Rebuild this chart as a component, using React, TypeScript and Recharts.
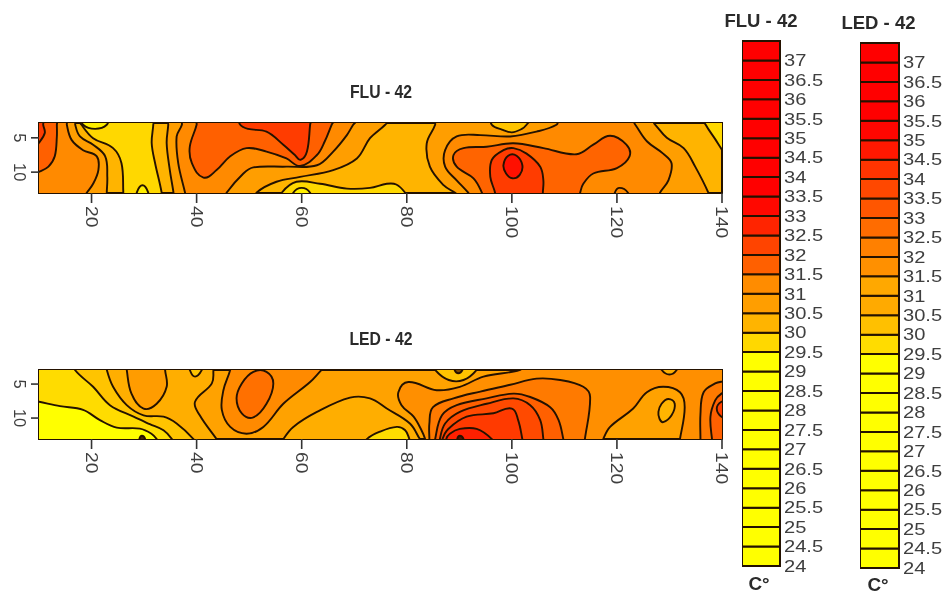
import React from 'react';
import { Bar, BarChart, CartesianGrid, ReferenceArea, Scatter, ScatterChart, XAxis, YAxis } from 'recharts';

type Pt = [number, number];

// distance along the strip and across it. Points just outside the frame close each region.
const xTicks = [20, 40, 60, 80, 100, 120, 140];
const yTicks = [5, 10];
const tempTicks = [24, 24.5, 25, 25.5, 26, 26.5, 27, 27.5, 28, 28.5, 29, 29.5, 30, 30.5, 31, 31.5, 32, 32.5, 33, 33.5, 34, 34.5, 35, 35.5, 36, 36.5, 37];

// legend colours from 24 upward, one per half degree
const fluBandColors = ['#ffff00', '#ffff00', '#ffff00', '#ffff00', '#ffff00', '#ffff00', '#ffff00', '#ffff00', '#ffff00', '#ffff00', '#ffff00', '#ffd800', '#ffb400', '#ff9e00', '#ff8c00', '#ff6000', '#ff4400', '#ff2400', '#ff0800', '#ff0000', '#ff0000', '#ff0000', '#ff0000', '#ff0000', '#ff0000', '#ff0000', '#ff0000'];
const ledBandColors = ['#ffff00', '#ffff00', '#ffff00', '#ffff00', '#ffff00', '#ffff00', '#ffff00', '#ffff00', '#ffff00', '#ffff00', '#ffff00', '#ffdc00', '#ffc000', '#ffaa00', '#ffa800', '#ff9000', '#ff8000', '#ff6c00', '#ff5600', '#ff4800', '#ff3400', '#ff1800', '#ff0600', '#ff0000', '#ff0000', '#ff0000', '#ff0000'];

// FLU - 42 contours
const fluYellowCentre: Pt[] = [[17.5, 2.1], [18.1, 3.1], [20.3, 5.05], [24.1, 6.5], [25.7, 8.7], [26.05, 13], [26.1, 14.1], [33.35, 14.1], [33.35, 13], [32.1, 8.7], [31.45, 5.8], [31.75, 3.1], [31.75, 2.1]];
const fluTopNotch: Pt[] = [[18.4, 2.1], [18.4, 3.1], [20.7, 3.7], [22.9, 3.1], [22.9, 2.1]];
const fluBottomNotch: Pt[] = [[28.6, 14.1], [28.6, 13], [29.7, 11.9], [30.8, 13], [30.8, 14.1]];
const fluLeftA: Pt[] = [[16.9, 2.1], [16.9, 3.1], [17.8, 4.8], [20.3, 6], [22.6, 7.7], [23, 10.7], [22.9, 13], [22.9, 14.1], [8, 14.1], [8, 2.1]];
const fluLeftB: Pt[] = [[15.3, 2.1], [15.3, 3.1], [16.2, 5.3], [18.4, 6.8], [21, 7.7], [21.3, 9.7], [20.3, 11.7], [19.1, 13], [18.1, 14.1], [8, 14.1], [8, 2.1]];
const fluLeftC: Pt[] = [[13.4, 2.1], [13.4, 3.1], [13.4, 4.8], [13, 7.7], [11.8, 9.2], [10, 9.95], [8.6, 10.3], [8, 2.1]];
const fluLeftD: Pt[] = [[10.8, 2.1], [10.8, 3.1], [11.1, 4.3], [10, 5.7], [8.9, 6.5], [8, 2.1]];
const fluMidA: Pt[] = [[34.6, 2.1], [34.6, 3.1], [34.3, 5.8], [34.9, 9.7], [35.6, 13], [35.7, 14.1], [51.4, 14.1], [51.4, 13], [55.2, 11.4], [59.7, 10.7], [66, 9.7], [70.5, 8], [73, 5.05], [75.9, 3.1], [76.8, 2.1]];
const fluMidB: Pt[] = [[37.2, 2.1], [37.2, 3.1], [36.2, 4.8], [36.5, 8.7], [37.8, 13], [38.1, 14.1], [45.1, 14.1], [45.7, 13], [48.9, 10.2], [50.8, 9.3], [57.1, 9.2], [62.9, 9], [66, 7], [68.6, 4.6], [69.8, 3.1], [70.8, 2.1]];
const fluMidC: Pt[] = [[40, 2.1], [40, 3.1], [38.7, 6.3], [39.1, 8.7], [41.3, 10.8], [43.8, 9.7], [46.4, 7.7], [49.5, 6.5], [53.3, 7], [57.1, 8], [59.7, 9.1], [62.9, 7.5], [64.4, 5.5], [65.7, 3.1], [66.3, 2.1]];
const fluMidD: Pt[] = [[48.3, 2.1], [48.3, 3.1], [49.8, 3.7], [53.3, 4.1], [56.5, 6], [58.7, 7.5], [59.8, 8.2], [61, 7], [61.6, 3.1], [61.7, 2.1]];
const fluBottomYellow: Pt[] = [[56.2, 14.1], [56.2, 13], [59, 11.4], [63.5, 11.7], [68.6, 12.4], [73, 12.3], [76.2, 11.7], [78, 11.8], [79.7, 13], [80.3, 14.1]];
const fluBottomCore: Pt[] = [[58.4, 14.1], [58.4, 13], [60, 12.3], [61.6, 13], [61.6, 14.1]];
const fluRightA: Pt[] = [[85.4, 2.1], [85.4, 3.1], [83.8, 5.8], [84.4, 9.2], [87, 11.9], [89.2, 13], [91.1, 14.1], [137.7, 14.1], [137.4, 13], [134.9, 9.2], [132.7, 6.5], [129.5, 5], [127.3, 3.1], [126, 2.1]];
const fluRightTopNotch: Pt[] = [[96.2, 2.1], [96.2, 3.1], [98.1, 3.8], [100, 4.2], [101.9, 3.7], [102.8, 3.1], [103.5, 2.1]];
const fluRightB: Pt[] = [[109.2, 2.1], [108.5, 3.1], [104.7, 4.1], [99.7, 4.8], [94, 4.6], [89.5, 4.8], [87.3, 6.8], [87.3, 9.2], [89.5, 11.2], [91.7, 13], [92.7, 14.1], [127.9, 14.1], [128.2, 13], [129.8, 11.2], [130.4, 8.7], [128.8, 7.3], [125.7, 5.5], [123.5, 3.1], [122.5, 2.1]];
const fluRightC: Pt[] = [[94.6, 14.1], [94.3, 13], [92.7, 10.9], [89.5, 9.2], [88.9, 7.5], [90.8, 6.5], [95.2, 6.3], [100.3, 5.8], [106, 6.5], [112.3, 7.4], [115.5, 6], [118.7, 4.7], [121.8, 6], [122.4, 7.7], [120, 9.4], [115.5, 10.2], [113.6, 11.7], [113, 13], [112.7, 14.1]];
const fluRightD: Pt[] = [[96.8, 14.1], [96.8, 13], [95.9, 10.7], [96.2, 8.2], [98.4, 6.8], [100.3, 6.5], [102.8, 7.3], [105.4, 9.2], [106, 11.2], [105.9, 13], [105.9, 14.1]];
const fluPeak: Pt[] = [[98.4, 8.97], [99.3, 7.6], [100.9, 7.6], [102, 9], [101.5, 10.4], [100.1, 10.9], [98.9, 10.2]];
const fluBottomBump: Pt[] = [[119.6, 14.1], [119.6, 13], [120.5, 12.3], [122.1, 13], [122.1, 14.1]];
const fluCorner: Pt[] = [[136.5, 2.1], [136.9, 3.1], [138.8, 5.3], [139.8, 6.5], [141, 7.7], [142.8, 2.1]];

// LED - 42 contours
const ledLeftA: Pt[] = [[43.2, 2], [43.2, 2.9], [42.9, 4.9], [39.7, 7.6], [40.6, 9.6], [43.8, 13.1], [44.8, 14.2], [8, 14.2], [8, 2]];
const ledLeftB: Pt[] = [[22.9, 2], [22.9, 2.9], [24.1, 5.4], [26.7, 8.1], [29.9, 9.6], [33.7, 9.8], [36.2, 10.8], [39.4, 13.1], [40, 14.2], [8, 14.2], [8, 2]];
const ledLeftC: Pt[] = [[16.85, 1.95], [16.85, 2.93], [20.3, 5.4], [23.5, 8.1], [28, 9.8], [31.1, 10.9], [33.7, 11.8], [35.3, 13.1], [35.9, 14.2], [8, 14.2], [8, 2]];
const ledLeftD: Pt[] = [[8.6, 7.4], [10, 7.6], [14, 8.25], [18.4, 8.8], [21.6, 10.3], [24.8, 11.4], [29.2, 11.55], [31.4, 12.3], [32.4, 13.1], [33, 14.2], [8, 14.2]];
const ledLeftDot: Pt[] = [[29.1, 14.2], [29.1, 13.1], [29.6, 12.6], [30.2, 13.1], [30.2, 14.2]];
const ledTopHill: Pt[] = [[26.7, 2], [26.7, 2.9], [27.6, 6.4], [29.9, 8.6], [32.4, 7.9], [34.3, 5.4], [34, 2.9], [34, 2]];
const ledTopNotch: Pt[] = [[38.7, 2], [38.7, 2.9], [39.7, 3.9], [41, 2.9], [41, 2]];
const ledRing: Pt[] = [[46.4, 2], [46.4, 2.9], [45.1, 5.9], [44.8, 8.8], [46.4, 11.3], [49.5, 12.3], [52.7, 11.3], [56.5, 7.9], [61.6, 4.7], [63.8, 2.9], [65.1, 2]];
const ledEllipse: Pt[] = [[50.8, 3.2], [53.3, 3.2], [54.6, 4.9], [53.3, 7.9], [50.8, 9.9], [48.6, 9.3], [47.6, 7.1], [48.6, 4.9]];
const ledLowHill: Pt[] = [[55.9, 14.2], [56.5, 13.1], [58.4, 11.3], [62.9, 9.1], [69.2, 7], [73, 7.1], [76.2, 8.6], [80.6, 10.8], [82.5, 13.1], [83.5, 14.2]];
const ledLowCore: Pt[] = [[72, 14.2], [72.4, 13.1], [74.9, 12], [78.1, 11.3], [79.7, 11.8], [80.5, 13.1], [80.9, 14.2]];
const ledTopBlob: Pt[] = [[85.4, 2], [85.4, 2.9], [88, 4.4], [90.8, 4.4], [93.3, 2.9], [93.3, 2]];
const ledTopBlobCore: Pt[] = [[89.1, 2], [89.1, 2.9], [89.8, 3.4], [90.6, 2.9], [90.6, 2]];
const ledMain: Pt[] = [[102.2, 2], [101.6, 2.9], [94.6, 3.9], [90.1, 5.4], [85.7, 5.9], [80.3, 4.7], [78.4, 6.2], [79, 8.1], [81.3, 9.8], [82.8, 11.8], [83.5, 13.1], [83.8, 14.2], [117.1, 14.2], [117.4, 13.1], [118.7, 11.3], [123.1, 8.6], [125.7, 6.2], [128.8, 5.4], [132, 6.2], [132.9, 8.4], [132, 13.1], [131.7, 14.2], [142, 14.2], [142, 2]];
const ledHillA: Pt[] = [[84.3, 14.2], [84.3, 13.1], [84.3, 10.8], [85, 8.4], [88.9, 7.1], [94, 6.1], [99.7, 5.1], [104.7, 4.2], [109.2, 4.4], [113.6, 5.4], [114.9, 6.9], [113.9, 13.1], [113.6, 14.2]];
const ledHillB: Pt[] = [[85.4, 14.2], [85.4, 13.1], [86.7, 9.6], [89.5, 8.1], [95.2, 7.1], [100.3, 6.4], [103.5, 6.9], [107.3, 8.4], [108.9, 10.3], [109.8, 13.1], [110, 14.2]];
const ledHillC: Pt[] = [[86.3, 14.2], [86.3, 13.1], [87.3, 10.8], [90.1, 9.1], [95.2, 7.9], [100.3, 7.1], [103.5, 8.1], [105.4, 10.3], [106, 13.1], [106.1, 14.2]];
const ledHillD: Pt[] = [[86.8, 14.2], [86.8, 13.1], [87.9, 11.6], [91.4, 9.8], [96.5, 9.3], [100, 8.6], [101.2, 10.3], [102, 13.1], [102.2, 14.2]];
const ledHillE: Pt[] = [[87.5, 14.2], [87.5, 13.1], [88.2, 12.3], [90.1, 11.6], [93.3, 11.6], [96.2, 13.1], [96.8, 14.2]];
const ledHillDot: Pt[] = [[89.6, 14.2], [89.6, 13.1], [90.1, 12.6], [90.8, 13.1], [90.8, 14.2]];
const ledRightNotch: Pt[] = [[128.5, 2], [128.5, 2.9], [130, 3.6], [131.4, 2.9], [131.4, 2]];
const ledRightIsland: Pt[] = [[127.9, 9.1], [128.5, 7.9], [129.8, 7.2], [131, 7.9], [130.4, 9.6], [128.8, 10.6], [128.1, 10.1]];
const ledEdgeA: Pt[] = [[135.9, 14.2], [135.9, 13.1], [135.9, 9.4], [136.5, 6.2], [138.7, 4.9], [139.9, 4.65], [141.2, 4.65], [141.2, 14.2]];
const ledEdgeB: Pt[] = [[138.4, 14.2], [138.1, 13.1], [137.8, 9.8], [138.7, 7.4], [139.9, 6.4], [141.2, 6.1], [141.2, 14.2]];
const ledEdgeC: Pt[] = [[139.9, 7.6], [139, 8.6], [139.9, 9.8], [141.2, 9.8], [141.2, 7.6]];

// painted in order, inner regions last
const fluLayers: { points: Pt[]; fill: string }[] = [
  { points: fluYellowCentre, fill: '#ffd800' },
  { points: fluTopNotch, fill: '#ffee00' },
  { points: fluBottomNotch, fill: '#ffee00' },
  { points: fluLeftA, fill: '#ff9e00' },
  { points: fluLeftB, fill: '#ff8a00' },
  { points: fluLeftC, fill: '#ff6000' },
  { points: fluLeftD, fill: '#ff3c00' },
  { points: fluMidA, fill: '#ff9e00' },
  { points: fluMidB, fill: '#ff8a00' },
  { points: fluMidC, fill: '#ff6000' },
  { points: fluMidD, fill: '#ff3c00' },
  { points: fluBottomYellow, fill: '#ffd800' },
  { points: fluBottomCore, fill: '#fff000' },
  { points: fluRightA, fill: '#ff9e00' },
  { points: fluRightTopNotch, fill: '#ffc400' },
  { points: fluRightB, fill: '#ff8a00' },
  { points: fluRightC, fill: '#ff6400' },
  { points: fluRightD, fill: '#ff3c00' },
  { points: fluPeak, fill: '#ff1000' },
  { points: fluBottomBump, fill: '#ff8a00' },
  { points: fluCorner, fill: '#ffd800' },
];

const ledLayers: { points: Pt[]; fill: string }[] = [
  { points: ledLeftA, fill: '#ffae00' },
  { points: ledLeftB, fill: '#ffc400' },
  { points: ledLeftC, fill: '#ffdc00' },
  { points: ledLeftD, fill: '#ffff00' },
  { points: ledLeftDot, fill: '#4a2a00' },
  { points: ledTopHill, fill: '#ff9c00' },
  { points: ledTopNotch, fill: '#ffc400' },
  { points: ledRing, fill: '#ff8a00' },
  { points: ledEllipse, fill: '#ff7000' },
  { points: ledLowHill, fill: '#ffae00' },
  { points: ledLowCore, fill: '#ffdc00' },
  { points: ledTopBlob, fill: '#ffc400' },
  { points: ledTopBlobCore, fill: '#7a4a00' },
  { points: ledMain, fill: '#ff8f00' },
  { points: ledHillA, fill: '#ff7a00' },
  { points: ledHillB, fill: '#ff6000' },
  { points: ledHillC, fill: '#ff4a00' },
  { points: ledHillD, fill: '#ff3a00' },
  { points: ledHillE, fill: '#ff2000' },
  { points: ledHillDot, fill: '#5a1000' },
  { points: ledRightNotch, fill: '#ffae00' },
  { points: ledRightIsland, fill: '#ffb400' },
  { points: ledEdgeA, fill: '#ff7a00' },
  { points: ledEdgeB, fill: '#ff6000' },
  { points: ledEdgeC, fill: '#ff4000' },
];

const LINE = '#241200';
const LABEL = '#3f3f3f';
const FONT = '"Liberation Sans", Arial, sans-serif';

// closed smooth path, handle length capped by the segment so tight corners don't overshoot
const contourPath = (pts: { x: number; y: number }[]) => {
  const n = pts.length;
  const unit = (a: { x: number; y: number }, b: { x: number; y: number }) => {
    const dx = b.x - a.x;
    const dy = b.y - a.y;
    const len = Math.hypot(dx, dy) || 1;
    return { x: dx / len, y: dy / len };
  };
  let d = `M${pts[0].x},${pts[0].y}`;
  for (let i = 0; i < n; i++) {
    const p0 = pts[(i - 1 + n) % n];
    const p1 = pts[i];
    const p2 = pts[(i + 1) % n];
    const p3 = pts[(i + 2) % n];
    const t1 = unit(p0, p2);
    const t2 = unit(p1, p3);
    const h = Math.hypot(p2.x - p1.x, p2.y - p1.y) * 0.36;
    d += `C${p1.x + t1.x * h},${p1.y + t1.y * h} ${p2.x - t2.x * h},${p2.y - t2.y * h} ${p2.x},${p2.y}`;
  }
  return d + 'Z';
};

const BottomTick = ({ x, y, payload }: any) => (
  <text
    transform={`translate(${x},${y + 3}) rotate(90) scale(1.17,1)`}
    dominantBaseline="central"
    fontFamily={FONT}
    fontSize={16.5}
    fill={LABEL}
  >
    {payload.value}
  </text>
);

const LeftTick = ({ x, y, payload }: any) => (
  <text
    transform={`translate(${x - 11},${y}) rotate(90)`}
    textAnchor="middle"
    dominantBaseline="central"
    fontFamily={FONT}
    fontSize={16.5}
    fill={LABEL}
  >
    {payload.value}
  </text>
);

const LegendTick = ({ x, y, payload }: any) => (
  <text
    transform={`translate(${x + 4},${y}) scale(1.22,1)`}
    dominantBaseline="central"
    fontFamily={FONT}
    fontSize={16.5}
    fill={LABEL}
  >
    {payload.value}
  </text>
);

interface StripProps {
  top: number;
  plotHeight: number;
  yDomain: [number, number];
  base: string;
  layers: { points: Pt[]; fill: string }[];
}

const Strip = ({ top, plotHeight, yDomain, base, layers }: StripProps) => (
  <div style={{ position: 'absolute', left: 0, top }}>
    <ScatterChart width={742} height={plotHeight + 70} margin={{ top: 0, right: 0, bottom: 0, left: 0 }}>
      <CartesianGrid horizontal={false} vertical={false} fill={base} fillOpacity={1} stroke="none" />
      <XAxis
        type="number"
        dataKey="x"
        domain={[10, 140]}
        allowDataOverflow
        ticks={xTicks}
        interval={0}
        height={50}
        tickSize={10}
        tickMargin={0}
        axisLine={false}
        tickLine={{ stroke: '#333', strokeWidth: 1.6 }}
        tick={<BottomTick />}
      />
      <XAxis
        xAxisId="top"
        orientation="top"
        type="number"
        dataKey="x"
        domain={[10, 140]}
        allowDataOverflow
        ticks={xTicks}
        interval={0}
        height={20}
        tickSize={11}
        axisLine={false}
        tickLine={{ stroke: '#333', strokeWidth: 1.6 }}
        tick={false}
      />
      <YAxis
        type="number"
        dataKey="y"
        reversed
        domain={yDomain}
        allowDataOverflow
        ticks={yTicks}
        interval={0}
        width={39}
        tickSize={8}
        tickMargin={0}
        axisLine={false}
        tickLine={{ stroke: '#333', strokeWidth: 1.6 }}
        tick={<LeftTick />}
      />
      <YAxis
        yAxisId="right"
        orientation="right"
        type="number"
        dataKey="y"
        reversed
        domain={yDomain}
        allowDataOverflow
        ticks={yTicks}
        interval={0}
        width={20}
        tickSize={10}
        axisLine={false}
        tickLine={{ stroke: '#333', strokeWidth: 1.6 }}
        tick={false}
      />
      {layers.map((layer, i) => (
        <Scatter
          key={i}
          data={layer.points.map(([x, y]) => ({ x, y }))}
          isAnimationActive={false}
          shape={() => null}
          line={(p: any) => <path d={contourPath(p.points)} fill={layer.fill} stroke={LINE} strokeWidth={1.9} />}
        />
      ))}
      <ReferenceArea x1={10} x2={140} y1={yDomain[0]} y2={yDomain[1]} fill="none" stroke={LINE} strokeWidth={2} ifOverflow="visible" />
    </ScatterChart>
  </div>
);

interface ScaleProps {
  left: number;
  top: number;
  barWidth: number;
  colors: string[];
}

const ColorScale = ({ left, top, barWidth, colors }: ScaleProps) => {
  const row: Record<string, number | string> = { name: 'C', base: 24 };
  colors.forEach((_, i) => {
    row[`band${i}`] = 0.5;
  });
  return (
    <div style={{ position: 'absolute', left, top: top - 5 }}>
      <BarChart
        width={barWidth + 50}
        height={545}
        data={[row]}
        barCategoryGap={0}
        margin={{ top: 5, right: 0, bottom: 15, left: 0 }}
      >
        <XAxis dataKey="name" hide />
        <YAxis
          orientation="right"
          type="number"
          domain={[24, 37.5]}
          allowDataOverflow
          ticks={tempTicks}
          interval={0}
          width={50}
          axisLine={false}
          tickLine={false}
          tickMargin={0}
          tickSize={0}
          tick={<LegendTick />}
        />
        <Bar dataKey="base" stackId="t" fill="none" stroke="none" isAnimationActive={false} />
        {colors.map((c, i) => (
          <Bar key={i} dataKey={`band${i}`} stackId="t" fill={c} stroke={LINE} strokeWidth={2} isAnimationActive={false} />
        ))}
        <ReferenceArea y1={24} y2={37.5} fill="none" stroke={LINE} strokeWidth={2} ifOverflow="visible" />
      </BarChart>
    </div>
  );
};

const Title = ({ text, cx, cy, size, sx }: { text: string; cx: number; cy: number; size: number; sx: number }) => (
  <div
    style={{
      position: 'absolute',
      left: cx - 60,
      top: cy - 10,
      width: 120,
      height: 20,
      lineHeight: '20px',
      textAlign: 'center',
      fontFamily: FONT,
      fontWeight: 'bold',
      fontSize: size,
      color: '#2a2a2a',
      transform: `scaleX(${sx})`,
      whiteSpace: 'nowrap',
    }}
  >
    {text}
  </div>
);

export default function App() {
  return (
    <div
      style={{
        position: 'absolute',
        left: 0,
        top: 0,
        width: 948,
        height: 595,
        overflow: 'hidden',
        background: '#fff',
        filter: 'blur(0.7px)',
      }}
    >
      <Title text="FLU - 42" cx={380.5} cy={92} size={17.5} sx={0.9} />
      <Title text="LED - 42" cx={380.5} cy={338.5} size={17.5} sx={0.9} />
      <Strip top={103} plotHeight={70} yDomain={[2.84, 13.04]} base="#ffb400" layers={fluLayers} />
      <Strip top={350} plotHeight={69} yDomain={[2.93, 13.08]} base="#ffa200" layers={ledLayers} />
      <Title text="FLU - 42" cx={761} cy={21} size={18.5} sx={1.0} />
      <Title text="LED - 42" cx={878.5} cy={23} size={18.5} sx={1.0} />
      <ColorScale left={742} top={40.5} barWidth={38} colors={fluBandColors} />
      <ColorScale left={859.5} top={42.5} barWidth={39} colors={ledBandColors} />
      <Title text="C°" cx={759} cy={584} size={18} sx={1.05} />
      <Title text="C°" cx={878} cy={585} size={18} sx={1.05} />
    </div>
  );
}
